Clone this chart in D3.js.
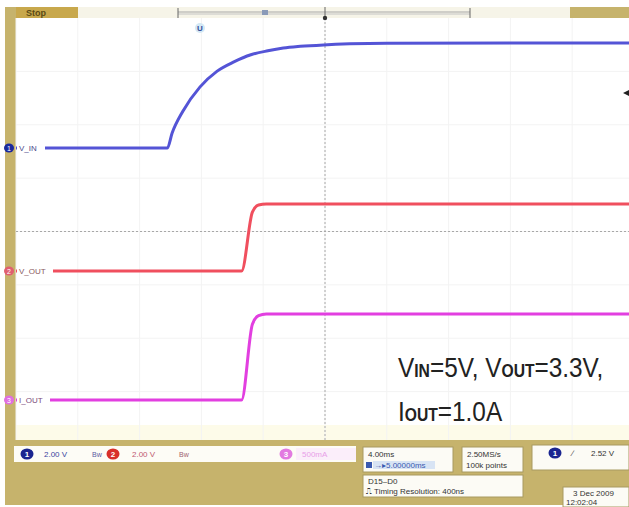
<!DOCTYPE html>
<html><head><meta charset="utf-8">
<script src="https://cdn.jsdelivr.net/npm/d3@7"></script>
<style>body{margin:0;background:#fff}svg{display:block}text{font-family:"Liberation Sans",Arial,sans-serif}</style>
</head><body><svg id="c" width="629" height="507"></svg>
<script>
// ---- data (time in ms, 4 ms/div, 10 div) ----
const vinTime   = [0, 9.8, 10.1, 10.8, 11.9, 13.0, 14.1, 15.2, 16.3, 17.3, 18.4, 19.9, 21.6, 24.0, 40];
const vinVolts  = [0, 0,   0.7,  1.75, 2.9,  3.65, 4.1,  4.44, 4.63, 4.76, 4.84, 4.91, 4.96, 4.99, 5.0];
const voutTime  = [0, 14.6, 15.3, 15.7, 16.2, 40];
const voutVolts = [0, 0,    2.9,  3.25, 3.3,  3.3];
const ioutTime  = [0, 14.6, 15.3, 15.7, 16.2, 40];
const ioutAmps  = [0, 0,    0.88, 0.98, 1.0,  1.0];
const channelLabels = ["V_IN", "V_OUT", "I_OUT"];
const channelScaleText = ["2.00 V", "2.00 V", "500mA"];
const timebaseText = ["4.00ms", "5.00000ms"];
const sampleText = ["2.50MS/s", "100k points"];
const triggerText = "2.52 V";
const digitalText = ["D15\u2013D0", "Timing Resolution: 400ns"];
const dateText = ["3 Dec  2009", "12:02:04"];

const svg = d3.select("#c");
const khaki = "#c6b36c";
const plot = {l:16, r:634, t:18, b:445};

// frame
svg.append("rect").attr("x",5).attr("y",7).attr("width",624).attr("height",498).attr("fill",khaki);
svg.append("rect").attr("x",plot.l).attr("y",plot.t).attr("width",629-plot.l).attr("height",440-plot.t).attr("fill","#fff");
svg.append("rect").attr("x",plot.l).attr("y",425).attr("width",629-plot.l).attr("height",15).attr("fill","#fdfbe9");

// scales
const x = d3.scaleLinear().domain([0,40]).range([plot.l, plot.r]);
const yDiv = d3.scaleLinear().domain([-4,4]).range([plot.b, plot.t]);
const yIn  = d3.scaleLinear().domain([0,5]).range([148,43]);
const yOut = d3.scaleLinear().domain([0,3.3]).range([271,204]);
const yI   = d3.scaleLinear().domain([0,1]).range([400,314]);

// faint grid
const g = svg.append("g");
g.selectAll("line.v").data(d3.range(0,41,4)).join("line")
 .attr("x1",d=>x(d)).attr("x2",d=>x(d)).attr("y1",plot.t).attr("y2",440)
 .attr("stroke","#f3f3f3").attr("stroke-width",1);
g.selectAll("line.h").data(d3.range(-3,4)).join("line")
 .attr("y1",d=>yDiv(d)).attr("y2",d=>yDiv(d)).attr("x1",plot.l).attr("x2",629)
 .attr("stroke","#f3f3f3").attr("stroke-width",1);
// center graticule
svg.append("line").attr("x1",x(20)).attr("x2",x(20)).attr("y1",plot.t).attr("y2",440)
 .attr("stroke","#a8a8a8").attr("stroke-dasharray","2,2");
svg.append("line").attr("y1",yDiv(0)).attr("y2",yDiv(0)).attr("x1",plot.l).attr("x2",629)
 .attr("stroke","#a8a8a8").attr("stroke-dasharray","2,2");

// traces
function trace(ts, vs, ys, color){
  const line = d3.line().x((d,i)=>x(ts[i])).y((d,i)=>ys(vs[i])).curve(d3.curveMonotoneX);
  svg.append("path").datum(vs).attr("d",line).attr("fill","none")
    .attr("stroke",color).attr("stroke-width",3).attr("stroke-linejoin","round");
}
trace(vinTime, vinVolts, yIn, "#5454d6");
trace(voutTime, voutVolts, yOut, "#f04f5e");
trace(ioutTime, ioutAmps, yI, "#e23fe0");

// channel labels on left
const labelInfo = [
  {y:yIn(0), txt:channelLabels[0], c:"#1c2a9c", tc:"#4a4a8a", w:28, n:"1"},
  {y:yOut(0), txt:channelLabels[1], c:"#e06070", tc:"#8a5a60", w:36, n:"2"},
  {y:yI(0), txt:channelLabels[2], c:"#e070e0", tc:"#7a4a7a", w:33, n:"3"}];
labelInfo.forEach(o=>{
  svg.append("rect").attr("x",17).attr("y",o.y-5).attr("width",o.w).attr("height",10).attr("fill","#fff");
  svg.append("ellipse").attr("cx",9).attr("cy",o.y).attr("rx",5).attr("ry",4.5).attr("fill",o.c);
  svg.append("text").attr("x",9).attr("y",o.y+3).attr("text-anchor","middle").attr("font-size",7).attr("fill","#fff").text(o.n);
  svg.append("text").attr("x",19).attr("y",o.y+3).attr("font-size",8).attr("fill",o.tc).text(o.txt);
});

// top record bar
svg.append("rect").attr("x",78).attr("y",7).attr("width",492).attr("height",11).attr("fill","#f6f4e8");
svg.append("rect").attr("x",16).attr("y",7).attr("width",62).attr("height",11).attr("fill","#c8a84c");
svg.append("text").attr("x",26).attr("y",16).attr("font-size",9).attr("font-weight","bold").attr("fill","#5a4a14").text("Stop");
svg.append("line").attr("x1",178).attr("x2",470).attr("y1",12).attr("y2",12).attr("stroke","#a8a8a8");
svg.append("line").attr("x1",178).attr("x2",470).attr("y1",14).attr("y2",14).attr("stroke","#c4c4c4");
[178,470].forEach(px=>svg.append("line").attr("x1",px).attr("x2",px).attr("y1",8).attr("y2",18).attr("stroke","#666").attr("stroke-width",1));
svg.append("rect").attr("x",262).attr("y",10).attr("width",6).attr("height",5).attr("fill","#8a9ab8");
svg.append("circle").attr("cx",x(20)).attr("cy",18).attr("r",2.2).attr("fill","#333");
svg.append("line").attr("x1",x(20)).attr("x2",x(20)).attr("y1",7).attr("y2",16).attr("stroke","#666");
// position marker
svg.append("circle").attr("cx",200).attr("cy",28).attr("r",5).attr("fill","#d4e8f4");
svg.append("text").attr("x",200).attr("y",31).attr("text-anchor","middle").attr("font-size",8).attr("font-weight","bold").attr("fill","#34509a").text("U");
// trigger level marker
svg.append("path").attr("d",`M623,${yIn(5)+50} l6,-3 v6 z`).attr("fill","#222");

// annotation text
function ann(y0, parts){
  const t = svg.append("g").attr("transform",`translate(398,${y0}) scale(0.87,1)`)
    .append("text").attr("fill","#222").attr("font-size",28);
  parts.forEach(p=>{
    const s = t.append("tspan").text(p[0]);
    if(p[1]) s.attr("font-size",18).attr("font-weight","bold");
  });
}
ann(377, [["V"],["IN",1],["=5V, V"],["OUT",1],["=3.3V,"]]);
ann(421, [["I"],["OUT",1],["=1.0A"]]);

// bottom status bar
svg.append("rect").attr("x",14).attr("y",446).attr("width",342).attr("height",16).attr("fill","#fdfcf6");
function chip(cx, cy, c, n){
  svg.append("ellipse").attr("cx",cx).attr("cy",cy).attr("rx",6.5).attr("ry",5.5).attr("fill",c);
  svg.append("text").attr("x",cx).attr("y",cy+3).attr("text-anchor","middle").attr("font-size",8).attr("font-weight","bold").attr("fill","#fff").text(n);
}
chip(27,454,"#1a2590","1");
svg.append("text").attr("x",44).attr("y",457).attr("font-size",8).attr("fill","#3a46a0").text(channelScaleText[0]);
svg.append("text").attr("x",92).attr("y",457).attr("font-size",7).attr("fill","#5a5aa0").text("Bw");
chip(113,454,"#d8302a","2");
svg.append("text").attr("x",132).attr("y",457).attr("font-size",8).attr("fill","#c05a70").text(channelScaleText[1]);
svg.append("text").attr("x",179).attr("y",457).attr("font-size",7).attr("fill","#a06070").text("Bw");
chip(286,454,"#e27ae0","3");
svg.append("rect").attr("x",296).attr("y",448).attr("width",60).attr("height",12).attr("fill","#fbeefa");
svg.append("text").attr("x",302).attr("y",457).attr("font-size",8).attr("fill","#e8a0e8").text(channelScaleText[2]);

function box(x0,y0,w,h){
  svg.append("rect").attr("x",x0).attr("y",y0).attr("width",w).attr("height",h)
   .attr("fill","#fcfbf5").attr("stroke","#a89a60").attr("stroke-width",1);
}
box(363,447,90,25);
svg.append("text").attr("x",368).attr("y",457).attr("font-size",8).attr("fill","#333").text(timebaseText[0]);
svg.append("rect").attr("x",366).attr("y",462).attr("width",6).attr("height",6).attr("fill","#3a5ab0");
svg.append("rect").attr("x",373).attr("y",461).attr("width",62).attr("height",8).attr("fill","#d8e4f4");
svg.append("text").attr("x",374).attr("y",468).attr("font-size",8).attr("fill","#3a5ab0").text("\u2192\u25B8"+timebaseText[1]);
box(462,447,61,25);
svg.append("text").attr("x",467).attr("y",457).attr("font-size",8).attr("fill","#333").text(sampleText[0]);
svg.append("text").attr("x",466).attr("y",468).attr("font-size",8).attr("fill","#333").text(sampleText[1]);
box(532,445,97,25);
chip(555,453,"#1a2590","1");
svg.append("text").attr("x",572).attr("y",456).attr("font-size",8).attr("fill","#333").text("\u2215");
svg.append("text").attr("x",591).attr("y",456).attr("font-size",8).attr("fill","#333").text(triggerText);
box(363,475,160,22);
svg.append("text").attr("x",368).attr("y",484).attr("font-size",8).attr("fill","#333").text(digitalText[0]);
svg.append("text").attr("x",366).attr("y",494).attr("font-size",8).attr("fill","#333").text("\u238D "+digitalText[1]);
box(563,487,66,20);
svg.append("text").attr("x",573).attr("y",496).attr("font-size",8).attr("fill","#333").text(dateText[0]);
svg.append("text").attr("x",566).attr("y",505).attr("font-size",8).attr("fill","#333").text(dateText[1]);
</script></body></html>
